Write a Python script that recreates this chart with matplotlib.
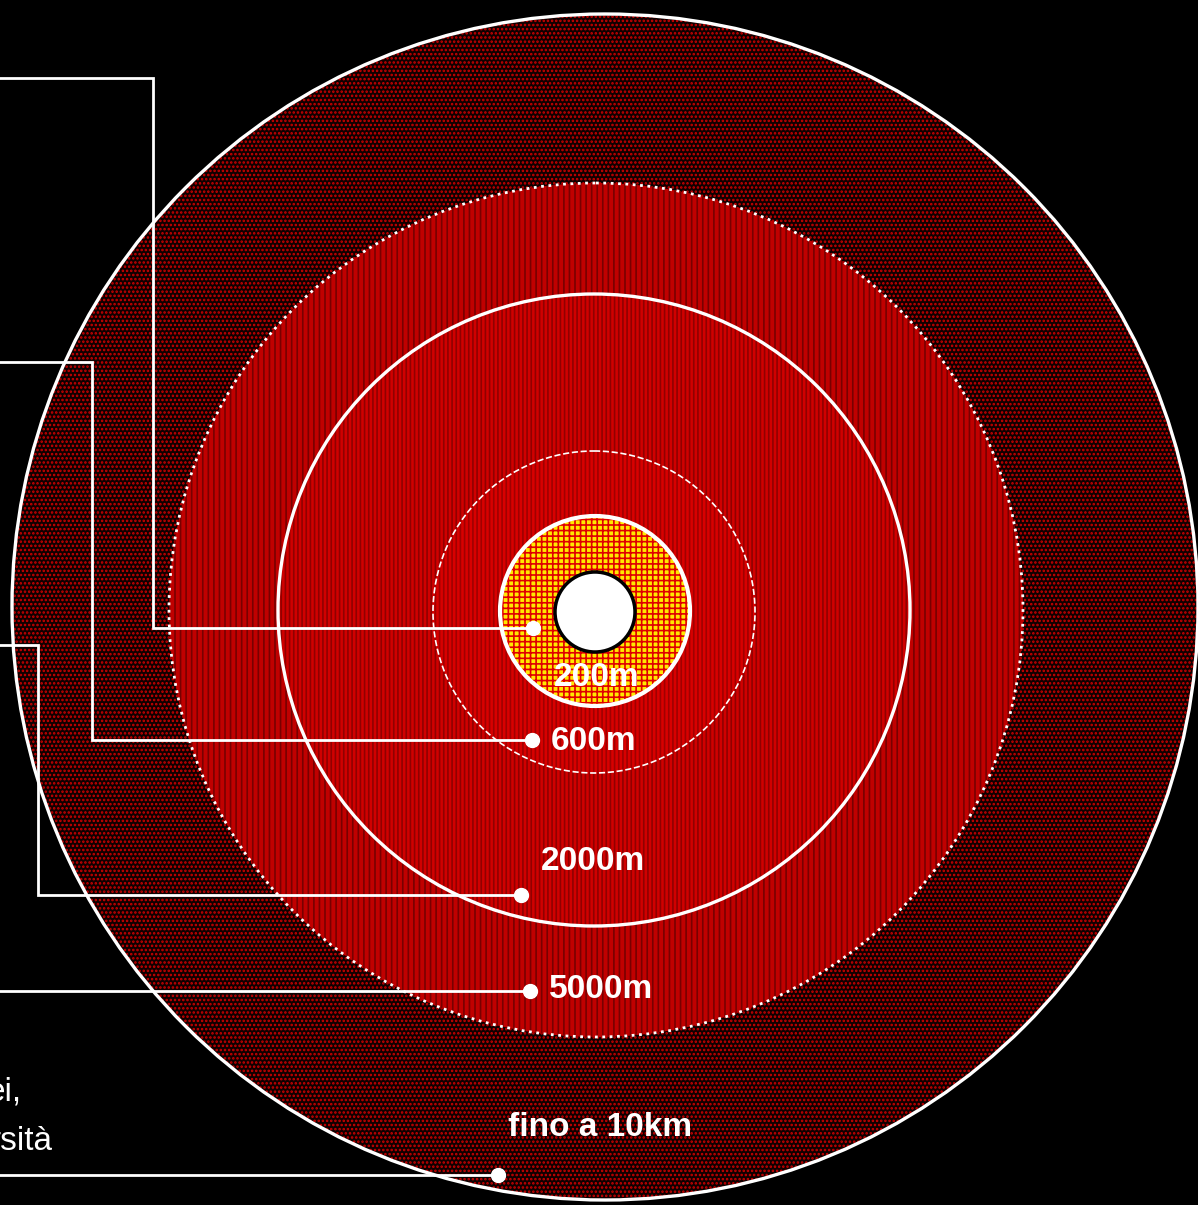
import matplotlib.pyplot as plt
from matplotlib.patches import Circle
import matplotlib as mpl

# zones (distance from the centre)
zone_labels = ['200m', '600m', '2000m', '5000m', 'fino a 10km']
side_text = ['ei,', 'rsità']   # cut-off captions on the left edge

# drawing layout, in image pixels (the rings are not to scale)
centres = [(595, 611), (594, 612), (594, 610), (596, 610), (605, 607)]
ring_r = [95, 161, 316, 427, 593]
ring_fc = ['#ffe800', '#d80000', '#d00000', '#c00000', '#100000']
ring_hatch = ['+++', '||||', '||||', '|||', '....']
ring_hc = ['#e00000', '#a00000', '#900000', '#780000', '#d00000']
label_xy = [(597, 678), (594, 741), (593, 862), (601, 990), (600, 1127)]
leader_paths = [
    [(0, 78), (153, 78), (153, 628), (533, 628)],
    [(0, 362), (92, 362), (92, 740), (532, 740)],
    [(0, 645), (38, 645), (38, 895), (521, 895)],
    [(0, 991), (530, 991)],
    [(0, 1175), (498, 1175)],
]

mpl.rcParams['hatch.linewidth'] = 1.2
fig = plt.figure(figsize=(11.98, 12.05), dpi=100, facecolor='black')
ax = fig.add_axes([0, 0, 1, 1])
ax.set_xlim(0, 1198)
ax.set_ylim(1205, 0)
ax.axis('off')
ax.set_facecolor('black')

# filled rings, biggest first
for i in range(len(ring_r) - 1, -1, -1):
    ax.add_patch(Circle(centres[i], ring_r[i], facecolor=ring_fc[i], edgecolor=ring_hc[i],
                        hatch=ring_hatch[i], linewidth=0, zorder=1 + (4 - i)))

# ring outlines
outline_style = [('-', 3.0), ('--', 1.2), ('-', 2.4), (':', 2.0), ('-', 2.4)]
for c, r, (ls, lw) in zip(centres, ring_r, outline_style):
    ax.add_patch(Circle(c, r, fill=False, edgecolor='white', linestyle=ls,
                        linewidth=lw, zorder=8))

# white centre
ax.add_patch(Circle((595, 612), 40, facecolor='white', edgecolor='black', linewidth=2.5, zorder=9))

# leader lines
for path in leader_paths:
    xs = [p[0] for p in path]
    ys = [p[1] for p in path]
    ax.plot(xs, ys, color='white', lw=2.0, zorder=10, solid_joinstyle='miter')
    ax.plot(xs[-1], ys[-1], 'o', color='white', ms=10, zorder=11)

font = ['Liberation Sans Narrow', 'Liberation Sans', 'DejaVu Sans']
for lab, (x, y) in zip(zone_labels, label_xy):
    ax.text(x, y, lab, color='white', fontsize=24, fontweight='bold', family=font,
            ha='center', va='center', zorder=12)

ax.text(22, 1092, side_text[0], color='white', fontsize=24, family=font,
        ha='right', va='center', zorder=12)
ax.text(53, 1141, side_text[1], color='white', fontsize=24, family=font,
        ha='right', va='center', zorder=12)

fig.savefig('out.png', dpi=100, facecolor='black')
